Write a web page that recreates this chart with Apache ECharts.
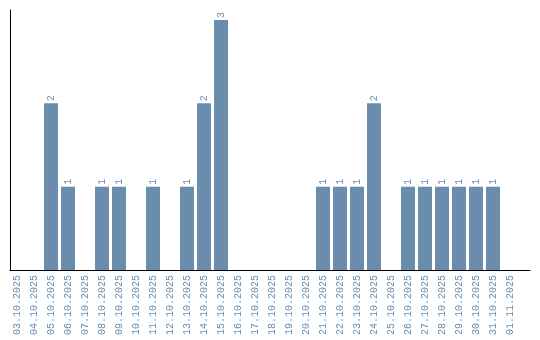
<!DOCTYPE html>
<html><head><meta charset="utf-8">
<script src="https://cdn.jsdelivr.net/npm/echarts@6/dist/echarts.min.js"></script>
<style>html,body{margin:0;padding:0;background:#fff}#c{width:540px;height:340px}</style>
</head><body><div id="c"></div>
<script>
const categories = ["03.10.2025","04.10.2025","05.10.2025","06.10.2025","07.10.2025","08.10.2025","09.10.2025","10.10.2025","11.10.2025","12.10.2025","13.10.2025","14.10.2025","15.10.2025","16.10.2025","17.10.2025","18.10.2025","19.10.2025","20.10.2025","21.10.2025","22.10.2025","23.10.2025","24.10.2025","25.10.2025","26.10.2025","27.10.2025","28.10.2025","29.10.2025","30.10.2025","31.10.2025","01.11.2025"];
const counts = [0,0,2,1,0,1,1,0,1,0,1,2,3,0,0,0,0,0,1,1,1,2,0,1,1,1,1,1,1,0];

const color = '#6a8cad';
const font = 'Liberation Mono';
const chart = echarts.init(document.getElementById('c'));
chart.setOption({
  animation: false,
  grid: [
    {left: 8.5, right: 21.5, top: 10, bottom: 70},
    {left: 10, right: 10, top: 10, bottom: 70}
  ],
  xAxis: [
    {type: 'category', data: categories, gridIndex: 0,
     axisLine: {show: false}, axisTick: {show: false},
     axisLabel: {rotate: 90, interval: 0, color: color, fontFamily: font, fontSize: 10, margin: 5}},
    {type: 'value', gridIndex: 1, min: 0, max: 1,
     axisLine: {show: true, lineStyle: {color: '#000', width: 1}},
     axisTick: {show: false}, axisLabel: {show: false}, splitLine: {show: false}}
  ],
  yAxis: [
    {type: 'value', gridIndex: 0, min: 0, max: 3.12,
     axisLine: {show: false}, axisTick: {show: false}, axisLabel: {show: false}, splitLine: {show: false}},
    {type: 'value', gridIndex: 1, min: 0, max: 1,
     axisLine: {show: true, lineStyle: {color: '#000', width: 1}},
     axisTick: {show: false}, axisLabel: {show: false}, splitLine: {show: false}}
  ],
  series: [{
    type: 'bar', xAxisIndex: 0, yAxisIndex: 0,
    data: counts.map(v => v === 0 ? null : v),
    barWidth: 14,
    itemStyle: {color: color},
    label: {show: true, position: 'top', rotate: 90, align: 'left', verticalAlign: 'middle',
            distance: 2, color: color, fontFamily: font, fontSize: 10}
  }]
});
</script></body></html>
